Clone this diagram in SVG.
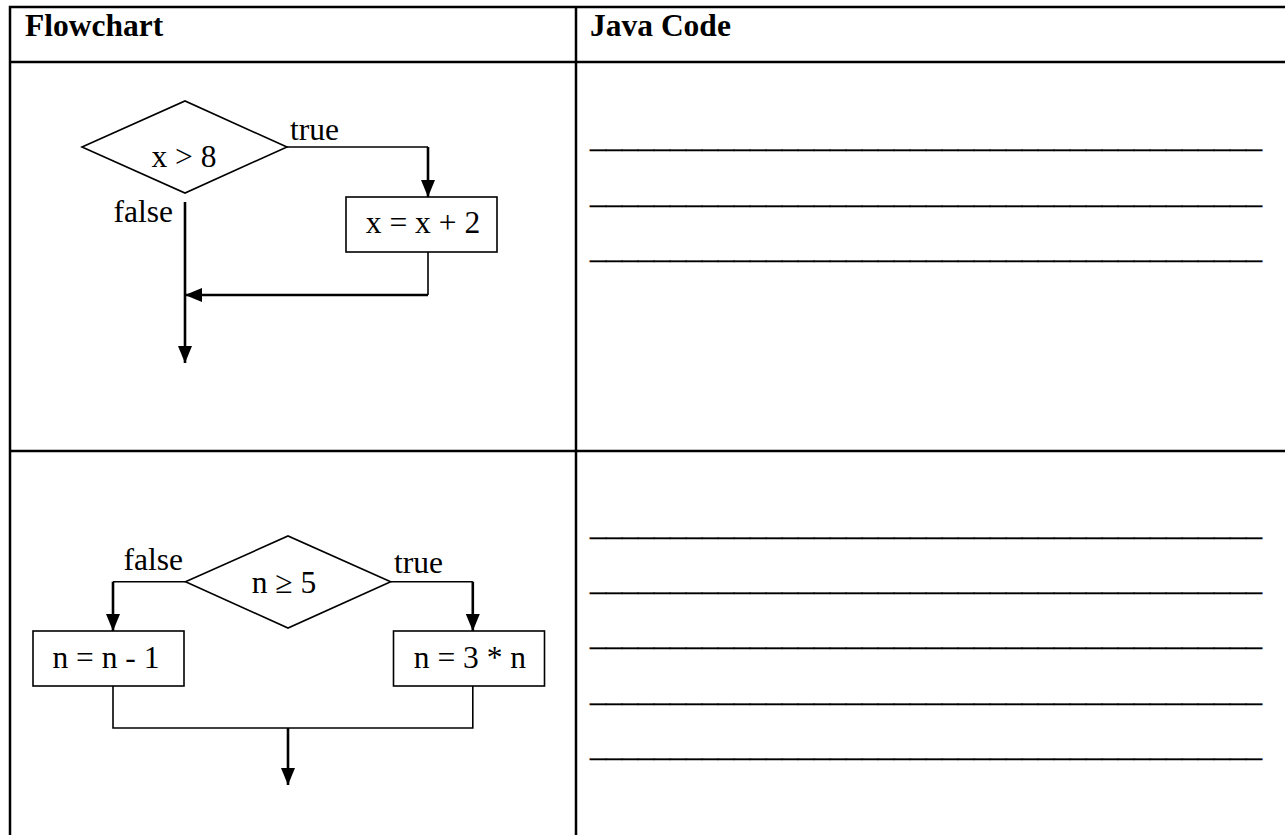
<svg xmlns="http://www.w3.org/2000/svg" width="1285" height="835" viewBox="0 0 1285 835">
  <style>
    .grid { stroke: #000; stroke-width: 2.5; fill: none; }
    .shape { fill: #fff; stroke: #000; stroke-width: 1.6; }
    .thin { fill: none; stroke: #000; stroke-width: 1.6; }
    .flow { fill: none; stroke: #000; stroke-width: 2.6; }
    .txt { font-family: "Liberation Serif", "Times New Roman", serif; font-size: 31.5px; fill: #000; }
    .head { font-family: "Liberation Serif", "Times New Roman", serif; font-size: 31.5px; font-weight: bold; fill: #000; }
    .blank { font-family: "Liberation Serif", "Times New Roman", serif; font-size: 32px; fill: #000; stroke: #000; stroke-width: 0.35; }
    .mid { text-anchor: middle; }
    .end { text-anchor: end; }
  </style>
  <defs>
    <marker id="arrow" markerUnits="userSpaceOnUse" markerWidth="17" markerHeight="17" viewBox="0 0 17 14" refX="17" refY="7" orient="auto">
      <path d="M0,0 L17,7 L0,14 Z" fill="#000"/>
    </marker>
  </defs>

  <rect width="1285" height="835" fill="#fff"/>

  <!-- table frame -->
  <g id="table">
    <path class="grid" d="M10,835 V7 H1285 M10,62 H1285 M10,451 H1285 M576,7 V835"/>
    <text class="head" x="25" y="36">Flowchart</text>
    <text class="head" x="590" y="36">Java Code</text>
  </g>

  <!-- answer lines -->
  <g id="answer-lines">
    <text class="blank" x="590" y="147" textLength="672" lengthAdjust="spacingAndGlyphs">__________________________________________</text>
    <text class="blank" x="590" y="202.5" textLength="672" lengthAdjust="spacingAndGlyphs">__________________________________________</text>
    <text class="blank" x="590" y="258" textLength="672" lengthAdjust="spacingAndGlyphs">__________________________________________</text>
    <text class="blank" x="590" y="535" textLength="672" lengthAdjust="spacingAndGlyphs">__________________________________________</text>
    <text class="blank" x="590" y="590" textLength="672" lengthAdjust="spacingAndGlyphs">__________________________________________</text>
    <text class="blank" x="590" y="645" textLength="672" lengthAdjust="spacingAndGlyphs">__________________________________________</text>
    <text class="blank" x="590" y="701" textLength="672" lengthAdjust="spacingAndGlyphs">__________________________________________</text>
    <text class="blank" x="590" y="756" textLength="672" lengthAdjust="spacingAndGlyphs">__________________________________________</text>
  </g>

  <!-- connectors -->
  <g id="connectors">
    <!-- first flowchart -->
    <polyline class="thin" points="287,147 428,147"/>
    <polyline class="flow" points="428,147 428,197" marker-end="url(#arrow)"/>
    <polyline class="thin" points="428,252 428,295"/>
    <polyline class="flow" points="428,295 185,295" marker-end="url(#arrow)"/>
    <polyline class="flow" points="185,202 185,363" marker-end="url(#arrow)"/>
    <!-- second flowchart -->
    <polyline class="thin" points="185.5,581.7 113,581.7"/>
    <polyline class="flow" points="113,581.7 113,631" marker-end="url(#arrow)"/>
    <polyline class="thin" points="390.7,581.7 472.8,581.7"/>
    <polyline class="flow" points="472.8,581.7 472.8,631" marker-end="url(#arrow)"/>
    <polyline class="thin" points="113,686 113,728 472.8,728 472.8,686"/>
    <polyline class="flow" points="288,728 288,785" marker-end="url(#arrow)"/>
  </g>

  <g id="cond-x">
    <polygon class="shape" points="82,147 185,101 287,147 185,193"/>
    <text class="txt mid" x="184" y="167">x &gt; 8</text>
  </g>
  <g id="label-x-true">
    <text class="txt" x="290" y="140">true</text>
  </g>
  <g id="label-x-false">
    <text class="txt end" x="173" y="222">false</text>
  </g>
  <g id="step-x">
    <rect class="shape" x="346" y="197" width="151" height="55"/>
    <text class="txt mid" x="423" y="233">x = x + 2</text>
  </g>

  <g id="cond-n">
    <polygon class="shape" points="185.5,581.7 288,536 390.7,581.7 288,628"/>
    <text class="txt mid" x="284" y="593">n ≥ 5</text>
  </g>
  <g id="label-n-false">
    <text class="txt end" x="183" y="570">false</text>
  </g>
  <g id="label-n-true">
    <text class="txt" x="394" y="573">true</text>
  </g>
  <g id="step-dec">
    <rect class="shape" x="33" y="631" width="151" height="55"/>
    <text class="txt mid" x="106" y="668">n = n - 1</text>
  </g>
  <g id="step-triple">
    <rect class="shape" x="393.5" y="631" width="151" height="55"/>
    <text class="txt mid" x="470" y="668">n = 3 * n</text>
  </g>
</svg>
